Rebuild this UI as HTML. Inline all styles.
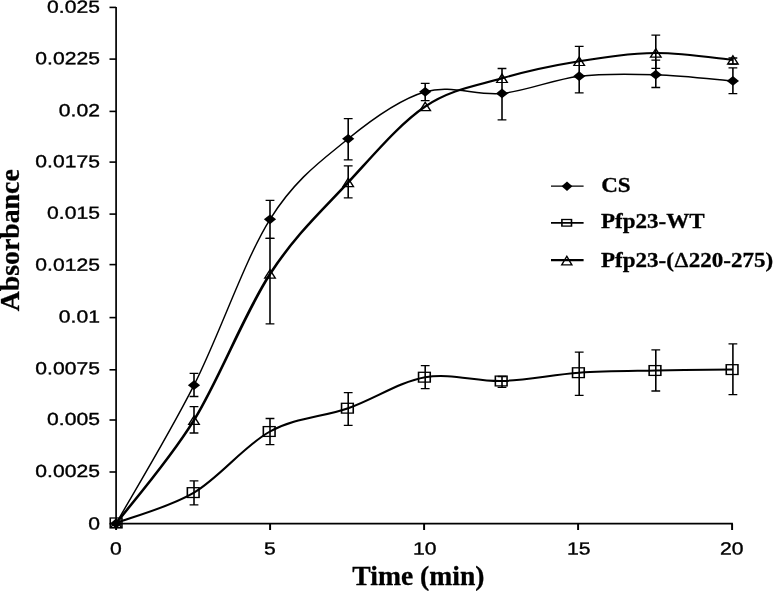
<!DOCTYPE html>
<html lang="en"><head><meta charset="utf-8"><title>Absorbance vs Time</title>
<style>html,body{margin:0;padding:0;background:#fff}svg{display:block;filter:blur(0.35px)}</style></head>
<body>
<svg width="774" height="591" viewBox="0 0 774 591">
<rect width="774" height="591" fill="#fff"/>
<g transform="scale(1.22 1)">
<g stroke="#000" stroke-width="1.6" fill="none">
<path stroke-width="1.4" d="M95.16 7.0 V524.4"/>
<path d="M94.51 523.6 H600.74"/>
<path d="M89.75 523.7 H95.16"/>
<path d="M89.75 472.0 H95.16"/>
<path d="M89.75 420.0 H95.16"/>
<path d="M89.75 369.8 H95.16"/>
<path d="M89.75 317.6 H95.16"/>
<path d="M89.75 264.6 H95.16"/>
<path d="M89.75 214.1 H95.16"/>
<path d="M89.75 162.1 H95.16"/>
<path d="M89.75 111.4 H95.16"/>
<path d="M89.75 59.1 H95.16"/>
<path d="M89.75 7.4 H95.16"/>
<path d="M95.16 523.6 V530"/>
<path d="M221.39 523.6 V530"/>
<path d="M347.62 523.6 V530"/>
<path d="M473.85 523.6 V530"/>
<path d="M600.08 523.6 V530"/>
</g>
</g>
<g transform="scale(1.0 1)" fill="none" stroke="#000" stroke-linejoin="round"><path stroke-width="1.45" d="M116.10 523.5 C129.08 500.4 168.35 435.9 194.00 385.2 C219.65 334.5 244.30 260.4 270.00 219.3 C295.70 178.2 322.33 160.1 348.20 138.8 C374.07 117.6 399.57 99.4 425.20 91.8 C450.83 84.2 476.33 96.0 502.00 93.4 C527.67 90.8 553.57 79.3 579.20 76.2 C604.83 73.1 630.18 73.9 655.80 74.7 C681.42 75.5 720.05 79.9 732.90 80.9"/></g>
<g transform="scale(1.1 1)" fill="none" stroke="#000" stroke-linejoin="round"><path stroke-width="2.0" d="M105.55 522.9 C117.35 517.9 153.05 507.8 176.36 492.6 C199.68 477.4 222.09 445.6 245.45 431.5 C268.82 417.4 293.03 417.2 316.55 408.2 C340.06 399.1 363.24 381.7 386.55 377.2 C409.85 372.7 433.03 381.8 456.36 381.0 C479.70 380.2 503.24 374.4 526.55 372.7 C549.85 370.9 572.89 371.0 596.18 370.5 C619.47 370.0 654.59 369.8 666.27 369.6"/></g>
<g transform="scale(1.4 1)" fill="none" stroke="#000" stroke-linejoin="round"><path stroke-width="2.0" d="M82.93 523.5 C92.20 506.3 120.25 461.8 138.57 420.2 C156.89 378.6 174.50 313.6 192.86 274.0 C211.21 234.4 230.24 210.3 248.71 182.4 C267.19 154.5 285.40 123.8 303.71 106.5 C322.02 89.2 340.24 85.8 358.57 78.3 C376.90 70.8 395.40 65.5 413.71 61.3 C432.02 57.1 450.13 53.2 468.43 53.0 C486.73 52.8 514.32 58.8 523.50 60.0"/></g>
<g transform="scale(1.22 1)">
<g stroke="#000" stroke-width="1.3" fill="none">
<path d="M155.41 373.4 H162.62 M159.02 373.4 V396.5 M155.41 396.5 H162.62"/>
<path d="M155.41 406.7 H162.62 M159.02 406.7 V433.0 M155.41 433.0 H162.62"/>
<path d="M155.41 480.8 H162.62 M159.02 480.8 V504.8 M155.41 504.8 H162.62"/>
<path d="M217.70 200.4 H224.92 M221.31 200.4 V238.4 M217.70 238.4 H224.92"/>
<path d="M217.70 238.4 H224.92 M221.31 238.4 V323.8 M217.70 323.8 H224.92"/>
<path d="M217.70 418.5 H224.92 M221.31 418.5 V444.6 M217.70 444.6 H224.92"/>
<path d="M281.80 118.6 H289.02 M285.41 118.6 V159.9 M281.80 159.9 H289.02"/>
<path d="M281.80 165.9 H289.02 M285.41 165.9 V197.8 M281.80 197.8 H289.02"/>
<path d="M281.80 392.7 H289.02 M285.41 392.7 V425.3 M281.80 425.3 H289.02"/>
<path d="M344.92 83.4 H352.13 M348.52 83.4 V100.6 M344.92 100.6 H352.13"/>
<path d="M344.92 365.7 H352.13 M348.52 365.7 V388.7 M344.92 388.7 H352.13"/>
<path d="M407.87 68.5 H415.08 M411.48 68.5 V119.8 M407.87 119.8 H415.08"/>
<path d="M407.87 376.5 H415.08 M411.48 376.5 V387.4 M407.87 387.4 H415.08"/>
<path d="M471.15 46.3 H478.36 M474.75 46.3 V92.8 M471.15 92.8 H478.36"/>
<path d="M471.15 352.2 H478.36 M474.75 352.2 V395.3 M471.15 395.3 H478.36"/>
<path d="M533.93 35.2 H541.15 M537.54 35.2 V68.3 M533.93 68.3 H541.15"/>
<path d="M533.93 60.2 H541.15 M537.54 60.2 V87.5 M533.93 87.5 H541.15"/>
<path d="M533.93 349.8 H541.15 M537.54 349.8 V391.0 M533.93 391.0 H541.15"/>
<path d="M597.13 58.0 H604.34 M600.74 58.0 V64.0 M597.13 64.0 H604.34"/>
<path d="M597.13 67.9 H604.34 M600.74 67.9 V93.7 M597.13 93.7 H604.34"/>
<path d="M597.13 343.9 H604.34 M600.74 343.9 V394.7 M597.13 394.7 H604.34"/>
</g>
<rect x="90.37" y="518.0" width="9.59" height="9.8" fill="none" stroke="#000" stroke-width="1.3"/>
<rect x="153.57" y="487.7" width="9.59" height="9.8" fill="none" stroke="#000" stroke-width="1.3"/>
<rect x="215.86" y="426.6" width="9.59" height="9.8" fill="none" stroke="#000" stroke-width="1.3"/>
<rect x="279.96" y="403.3" width="9.59" height="9.8" fill="none" stroke="#000" stroke-width="1.3"/>
<rect x="343.07" y="372.3" width="9.59" height="9.8" fill="none" stroke="#000" stroke-width="1.3"/>
<rect x="406.02" y="376.1" width="9.59" height="9.8" fill="none" stroke="#000" stroke-width="1.3"/>
<rect x="469.30" y="367.8" width="9.59" height="9.8" fill="none" stroke="#000" stroke-width="1.3"/>
<rect x="532.09" y="365.6" width="9.59" height="9.8" fill="none" stroke="#000" stroke-width="1.3"/>
<rect x="595.29" y="364.7" width="9.59" height="9.8" fill="none" stroke="#000" stroke-width="1.3"/>
<path d="M95.16 519.3 L99.51 527.7 L90.82 527.7Z" fill="none" stroke="#000" stroke-width="1.2"/>
<path d="M159.02 416.0 L163.36 424.4 L154.67 424.4Z" fill="none" stroke="#000" stroke-width="1.2"/>
<path d="M221.31 269.8 L225.66 278.2 L216.97 278.2Z" fill="none" stroke="#000" stroke-width="1.2"/>
<path d="M285.41 178.2 L289.75 186.6 L281.07 186.6Z" fill="none" stroke="#000" stroke-width="1.2"/>
<path d="M348.52 102.3 L352.87 110.7 L344.18 110.7Z" fill="none" stroke="#000" stroke-width="1.2"/>
<path d="M411.48 74.1 L415.82 82.5 L407.13 82.5Z" fill="none" stroke="#000" stroke-width="1.2"/>
<path d="M474.75 57.1 L479.10 65.5 L470.41 65.5Z" fill="none" stroke="#000" stroke-width="1.2"/>
<path d="M537.54 48.8 L541.89 57.2 L533.20 57.2Z" fill="none" stroke="#000" stroke-width="1.2"/>
<path d="M600.74 55.8 L605.08 64.2 L596.39 64.2Z" fill="none" stroke="#000" stroke-width="1.2"/>
<path d="M90.16 523.5 L95.16 518.6 L100.16 523.5 L95.16 528.4Z" fill="#000"/>
<path d="M154.02 385.2 L159.02 380.3 L164.02 385.2 L159.02 390.1Z" fill="#000"/>
<path d="M216.31 219.3 L221.31 214.4 L226.31 219.3 L221.31 224.2Z" fill="#000"/>
<path d="M280.41 138.8 L285.41 133.9 L290.41 138.8 L285.41 143.7Z" fill="#000"/>
<path d="M343.52 91.8 L348.52 86.9 L353.52 91.8 L348.52 96.7Z" fill="#000"/>
<path d="M406.48 93.4 L411.48 88.5 L416.48 93.4 L411.48 98.3Z" fill="#000"/>
<path d="M469.75 76.2 L474.75 71.3 L479.75 76.2 L474.75 81.1Z" fill="#000"/>
<path d="M532.54 74.7 L537.54 69.8 L542.54 74.7 L537.54 79.6Z" fill="#000"/>
<path d="M595.74 80.9 L600.74 76.0 L605.74 80.9 L600.74 85.8Z" fill="#000"/>
<g stroke="#000" fill="none">
<path stroke-width="1.3" d="M451.64 186.1 H478.36"/>
<path stroke-width="1.8" d="M451.64 222.8 H478.36"/>
<path stroke-width="2.3" d="M451.64 260.1 H478.36"/>
</g>
<path d="M460.33 186.2 L464.75 181.5 L469.18 186.2 L464.75 190.9Z" fill="#000"/>
<rect x="460.57" y="219.5" width="7.87" height="6.6" fill="none" stroke="#000" stroke-width="1.3"/>
<path d="M464.59 256.3 L468.77 264.9 L460.41 264.9Z" fill="none" stroke="#000" stroke-width="1.2"/>
</g>
<g font-family="'Liberation Sans', Arial, sans-serif" font-size="17.6" fill="#000" stroke="#000" stroke-width="0.35">
<text transform="translate(99.9 529.55) rotate(0.03) scale(1.20 1)" text-anchor="end">0</text>
<text transform="translate(99.9 476.92) rotate(0.03) scale(1.20 1)" text-anchor="end">0.0025</text>
<text transform="translate(99.9 425.09) rotate(0.03) scale(1.20 1)" text-anchor="end">0.005</text>
<text transform="translate(99.9 374.16) rotate(0.03) scale(1.20 1)" text-anchor="end">0.0075</text>
<text transform="translate(99.9 322.58) rotate(0.03) scale(1.20 1)" text-anchor="end">0.01</text>
<text transform="translate(99.9 270.65) rotate(0.03) scale(1.20 1)" text-anchor="end">0.0125</text>
<text transform="translate(99.9 218.77) rotate(0.03) scale(1.20 1)" text-anchor="end">0.015</text>
<text transform="translate(99.9 167.39) rotate(0.03) scale(1.20 1)" text-anchor="end">0.0175</text>
<text transform="translate(99.9 116.16) rotate(0.03) scale(1.20 1)" text-anchor="end">0.02</text>
<text transform="translate(99.9 64.38) rotate(0.03) scale(1.20 1)" text-anchor="end">0.0225</text>
<text transform="translate(99.9 12.80) rotate(0.03) scale(1.20 1)" text-anchor="end">0.025</text>
<text transform="translate(115.8 554.4) rotate(0.03) scale(1.20 1)" text-anchor="middle">0</text>
<text transform="translate(269.8 554.4) rotate(0.03) scale(1.20 1)" text-anchor="middle">5</text>
<text transform="translate(424.8 554.4) rotate(0.03) scale(1.20 1)" text-anchor="middle">10</text>
<text transform="translate(578.8 554.4) rotate(0.03) scale(1.20 1)" text-anchor="middle">15</text>
<text transform="translate(731.8 554.4) rotate(0.03) scale(1.20 1)" text-anchor="middle">20</text>
</g>
<g font-family="'Liberation Serif', 'Times New Roman', serif" font-weight="bold" fill="#000" stroke="#000" stroke-width="0.3">
<text transform="translate(601.2 191.9) scale(1.048 1)" font-size="22">CS</text>
<text transform="translate(601.0 228.1) scale(1.048 1)" font-size="22">Pfp23-WT</text>
<text transform="translate(601.0 267.4) scale(1.048 1)" font-size="22">Pfp23-(<tspan font-weight="normal" stroke-width="0.45">Δ</tspan>220-275)</text>
<text x="418.4" y="584.7" font-size="27.6" text-anchor="middle">Time (min)</text>
<text transform="translate(19.1 240.3) rotate(-90)" font-size="27.8" text-anchor="middle">Absorbance</text>
</g>
</svg>
</body></html>
